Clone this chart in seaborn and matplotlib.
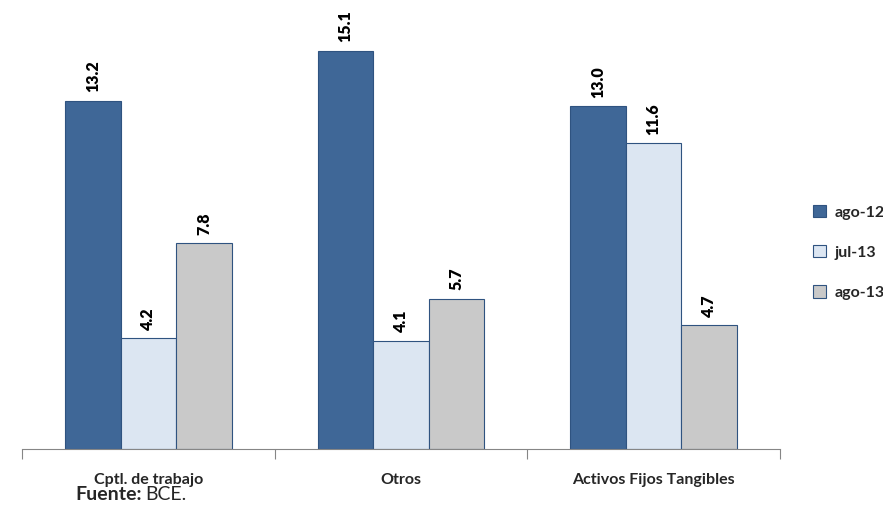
import matplotlib
matplotlib.use('Agg')
import matplotlib.pyplot as plt
import pandas as pd
import seaborn as sns
from matplotlib.patches import Patch

# Data
categories = ['Cptl. de trabajo', 'Otros', 'Activos Fijos Tangibles']
series = ['ago-12', 'jul-13', 'ago-13']
ago12 = [13.2, 15.1, 13.0]
jul13 = [4.2, 4.1, 11.6]
ago13 = [7.8, 5.7, 4.7]

colors = ['#3F6797', '#DCE6F2', '#C9C9C9']
edge = '#2F5380'

df = pd.DataFrame({
    'categoria': categories * 3,
    'serie': [s for s in series for _ in categories],
    'valor': ago12 + jul13 + ago13,
})

sns.set_style('white')
plt.rcParams['font.family'] = ['Lato', 'DejaVu Sans']

fig = plt.figure(figsize=(8.83, 5.05), dpi=100)
ax = fig.add_axes([0.025, 0.111, 0.858, 0.849])

sns.barplot(data=df, x='categoria', y='valor', hue='serie', order=categories,
            hue_order=series, palette=colors, saturation=1, width=0.66,
            edgecolor=edge, linewidth=0.8, ax=ax, legend=False)

# Value labels, rotated
for cont in ax.containers:
    ax.bar_label(cont, fmt='%.1f', rotation=90, padding=6, fontsize=11.5,
                 fontweight='heavy', color='black')

ax.set_ylim(0, 16.25)
ax.set_xlim(-0.5, 2.5)
ax.set_xlabel('')
ax.set_ylabel('')
ax.set_yticks([])
for side in ['top', 'right', 'left']:
    ax.spines[side].set_visible(False)
ax.spines['bottom'].set_color('#868686')
ax.spines['bottom'].set_linewidth(0.8)

# Tick marks at group boundaries, labels centered
ax.set_xticks([-0.5, 0.5, 1.5, 2.5], minor=False)
ax.set_xticklabels([])
ax.tick_params(axis='x', which='major', direction='out', length=7,
               color='#868686', width=0.8, bottom=True)
ax.set_xticks([0, 1, 2], minor=True)
ax.set_xticklabels(categories, minor=True, fontsize=11.5, fontweight='bold')
ax.tick_params(axis='x', which='minor', length=0, pad=17)

handles = [Patch(facecolor=c, edgecolor=edge, linewidth=0.8) for c in colors]
fig.legend(handles, series, loc='center left', bbox_to_anchor=(0.905, 0.5),
           frameon=False, prop={'weight': 'bold', 'size': 11.5},
           handlelength=0.8, handleheight=0.8, labelspacing=1.6,
           handletextpad=0.5)

fig.text(0.085, 0.003, 'Fuente:', fontsize=14, fontweight='bold', va='bottom')
fig.text(0.164, 0.003, 'BCE.', fontsize=14, va='bottom')

fig.savefig('out.png', dpi=100)
